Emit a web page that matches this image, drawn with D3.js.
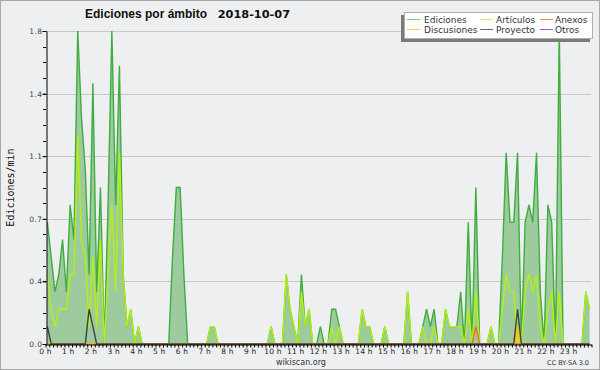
<!DOCTYPE html>
<html>
<head>
<meta charset="utf-8">
<script src="https://cdn.jsdelivr.net/npm/d3@7/dist/d3.min.js"></script>
<style>
  body { margin: 0; background: #fff; }
  svg text { font-family: "DejaVu Sans", sans-serif; }
</style>
</head>
<body>
<div id="chart"></div>
<script>
// one value per 10-minute bin (edits per minute), 0:00 .. 23:50
const ediciones = [
  0.7, 0.5, 0.3, 0.4, 0.6, 0.3, 0.8, 0.6, 1.8, 1.3, 1.0, 0.4,
  1.5, 0.3, 0.9, 0, 0.8, 1.8, 0.8, 1.6, 0.4, 0.1, 0.2, 0,
  0.1, 0, 0, 0, 0, 0, 0, 0, 0, 0.5, 0.9, 0.9,
  0.4, 0, 0, 0, 0, 0, 0, 0.1, 0.1, 0, 0, 0,
  0, 0, 0, 0, 0, 0, 0, 0, 0, 0, 0, 0.1,
  0, 0, 0, 0.4, 0.2, 0.1, 0, 0.4, 0.1, 0.2, 0, 0,
  0.1, 0, 0, 0.2, 0.2, 0.1, 0, 0, 0, 0, 0, 0.2,
  0.1, 0.1, 0, 0, 0, 0.1, 0, 0, 0, 0, 0, 0.3,
  0, 0, 0, 0.1, 0.2, 0.1, 0.2, 0, 0, 0.2, 0.1, 0.1,
  0.1, 0.3, 0, 0.7, 0, 0.9, 0, 0, 0, 0.1, 0, 0,
  0.5, 1.1, 0.7, 0.7, 1.1, 0, 0.7, 0.8, 0.7, 1.1, 0.3, 0,
  0.8, 0.7, 0, 1.8, 0, 0, 0, 0, 0, 0, 0.3, 0.2
];
const articulos = [
  0.4, 0.2, 0.1, 0.2, 0.2, 0.2, 0.4, 0.4, 1.2, 0.6, 0.5, 0.1,
  0.5, 0.1, 0.6, 0, 0.4, 0.8, 0.3, 1.1, 0.4, 0.1, 0.2, 0,
  0.1, 0, 0, 0, 0, 0, 0, 0, 0, 0, 0, 0,
  0, 0, 0, 0, 0, 0, 0, 0.1, 0.1, 0, 0, 0,
  0, 0, 0, 0, 0, 0, 0, 0, 0, 0, 0, 0.1,
  0, 0, 0, 0.4, 0.2, 0.1, 0, 0.3, 0.1, 0.2, 0, 0,
  0, 0, 0, 0.1, 0, 0.1, 0, 0, 0, 0, 0, 0.2,
  0.1, 0.1, 0, 0, 0, 0.1, 0, 0, 0, 0, 0, 0.3,
  0, 0, 0, 0.1, 0, 0, 0.1, 0, 0, 0.2, 0.1, 0.1,
  0.1, 0.1, 0, 0.2, 0, 0.3, 0, 0, 0, 0.1, 0, 0,
  0.2, 0.4, 0.3, 0.3, 0, 0, 0.3, 0.4, 0.3, 0.4, 0.1, 0,
  0.2, 0.3, 0, 0.3, 0, 0, 0, 0, 0, 0, 0.3, 0.2
];
const anexos = [
  0, 0, 0, 0, 0, 0, 0, 0, 0, 0, 0, 0,
  0, 0, 0, 0, 0, 0, 0, 0, 0, 0, 0, 0,
  0, 0, 0, 0, 0, 0, 0, 0, 0, 0, 0, 0,
  0, 0, 0, 0, 0, 0, 0, 0, 0, 0, 0, 0,
  0, 0, 0, 0, 0, 0, 0, 0, 0, 0, 0, 0,
  0, 0, 0, 0, 0, 0, 0, 0, 0, 0, 0, 0,
  0, 0, 0, 0, 0, 0, 0, 0, 0, 0, 0, 0,
  0, 0, 0, 0, 0, 0, 0, 0, 0, 0, 0, 0,
  0, 0, 0, 0, 0, 0, 0, 0, 0, 0, 0, 0,
  0, 0, 0, 0, 0, 0.1, 0, 0, 0, 0, 0, 0,
  0, 0, 0, 0, 0, 0, 0, 0, 0, 0, 0, 0,
  0, 0, 0, 0, 0, 0, 0, 0, 0, 0, 0, 0
];
const discusiones = [
  0, 0, 0, 0, 0, 0, 0, 0, 0, 0, 0, 0,
  0, 0, 0, 0, 0, 0, 0, 0, 0, 0, 0, 0,
  0, 0, 0, 0, 0, 0, 0, 0, 0, 0, 0, 0,
  0, 0, 0, 0, 0, 0, 0, 0, 0, 0, 0, 0,
  0, 0, 0, 0, 0, 0, 0, 0, 0, 0, 0, 0,
  0, 0, 0, 0, 0, 0, 0, 0, 0, 0, 0, 0,
  0, 0, 0, 0, 0, 0, 0, 0, 0, 0, 0, 0,
  0, 0, 0, 0, 0, 0, 0, 0, 0, 0, 0, 0,
  0, 0, 0, 0, 0, 0, 0, 0, 0, 0, 0, 0,
  0, 0, 0, 0, 0, 0, 0, 0, 0, 0, 0, 0,
  0, 0, 0, 0, 0.1, 0, 0, 0, 0, 0, 0, 0,
  0, 0, 0, 0, 0, 0, 0, 0, 0, 0, 0, 0
];
const proyecto = [
  0.1, 0, 0, 0, 0, 0, 0, 0, 0, 0, 0, 0.2,
  0.1, 0, 0, 0, 0, 0, 0, 0, 0, 0, 0, 0,
  0, 0, 0, 0, 0, 0, 0, 0, 0, 0, 0, 0,
  0, 0, 0, 0, 0, 0, 0, 0, 0, 0, 0, 0,
  0, 0, 0, 0, 0, 0, 0, 0, 0, 0, 0, 0,
  0, 0, 0, 0, 0, 0, 0, 0, 0, 0, 0, 0,
  0, 0, 0, 0, 0, 0, 0, 0, 0, 0, 0, 0,
  0, 0, 0, 0, 0, 0, 0, 0, 0, 0, 0, 0,
  0, 0, 0, 0, 0, 0, 0, 0, 0, 0, 0, 0,
  0, 0, 0, 0, 0, 0, 0, 0, 0, 0, 0, 0,
  0, 0, 0, 0, 0.2, 0, 0, 0, 0, 0, 0, 0,
  0, 0, 0, 0, 0, 0, 0, 0, 0, 0, 0, 0
];
const otros = [];

const hourLabels = [
  "0 h", "1 h", "2 h", "3 h", "4 h", "5 h", "6 h", "7 h", "8 h", "9 h", "10 h", "11 h",
  "12 h", "13 h", "14 h", "15 h", "16 h", "17 h", "18 h", "19 h", "20 h", "21 h", "22 h", "23 h"
];
const yTickValues = [0, 0.36, 0.72, 1.08, 1.44, 1.8];

const width = 600;
const height = 370;
const bg = "#eeeff0";

const svg = d3
  .select("#chart")
  .append("svg")
  .attr("width", width)
  .attr("height", height);

// frame
svg.append("rect")
  .attr("x", 0.5).attr("y", 0.5)
  .attr("width", width - 1).attr("height", height - 1)
  .attr("fill", bg)
  .attr("stroke", "#a8a8a8");

// scales: minutes of the day -> px
const x = d3.scaleLinear().domain([0, 1440]).range([45.5, 591.5]);
const y = d3.scaleLinear().domain([0, 1.8]).range([344, 31]);
const binX = (i) => x(i * 10 + 5);

// gridlines
svg.append("g")
  .selectAll("line")
  .data(yTickValues.slice(1))
  .join("line")
  .attr("x1", 46).attr("x2", 591)
  .attr("y1", (d) => Math.round(y(d)) + 0.5)
  .attr("y2", (d) => Math.round(y(d)) + 0.5)
  .attr("stroke", "#c8c8c8");

const series = [
  { name: "Ediciones", values: ediciones, stroke: "#3fad3f", legend: "#7fcc7f" },
  { name: "Artículos", values: articulos, stroke: "#b6ef12", legend: "#cdee66" },
  { name: "Anexos", values: anexos, stroke: "#f26a2e", legend: "#ff8050" },
  { name: "Discusiones", values: discusiones, stroke: "#ffb820", legend: "#ffcc55" },
  { name: "Proyecto", values: proyecto, stroke: "#404040", legend: "#666666" },
  { name: "Otros", values: otros, stroke: "#9944ee", legend: "#9955ee" },
];

const area = d3.area()
  .x((d, i) => binX(i))
  .y0(y(0))
  .y1((d) => y(d));

const line = d3.line()
  .x((d, i) => binX(i))
  .y((d) => y(d));

// Ediciones filled area
svg.append("path")
  .attr("d", area(ediciones))
  .attr("fill", "#9ecb9e");

// Discusiones small fill
svg.append("path")
  .attr("d", area(discusiones))
  .attr("fill", "#f5c040")
  .attr("opacity", 0.8);

series.forEach((s) => {
  if (!s.values.length) return;
  svg.append("path")
    .attr("d", line(s.values))
    .attr("fill", "none")
    .attr("stroke", s.stroke)
    .attr("stroke-width", 1.4)
    .attr("stroke-linejoin", "miter");
});

// Y axis
const yAxis = svg.append("g")
  .attr("transform", "translate(46.5,0)")
  .call(d3.axisLeft(y).tickValues(yTickValues).tickFormat((d) => d.toFixed(1)).tickSize(4).tickSizeOuter(0));
yAxis.select(".domain").attr("stroke", "#000");
yAxis.selectAll(".tick line").attr("stroke", "#000");
yAxis.selectAll("text")
  .attr("font-size", 7.5)
  .attr("letter-spacing", 0.4)
  .attr("fill", "#444")
  .attr("x", -4)
  .style("font-family", "DejaVu Sans");

// minor y ticks
svg.append("g")
  .selectAll("line")
  .data(d3.range(0, 1.8001, 0.09))
  .join("line")
  .attr("x1", 43).attr("x2", 46)
  .attr("y1", (d) => Math.round(y(d)) + 0.5)
  .attr("y2", (d) => Math.round(y(d)) + 0.5)
  .attr("stroke", "#000");

// X axis: small ticks every 10 min
const xAxis = svg.append("g")
  .attr("transform", "translate(0,344.5)")
  .call(d3.axisBottom(x).tickValues(d3.range(0, 1441, 10)).tickFormat("").tickSize(3).tickSizeOuter(0));
xAxis.select(".domain").attr("stroke", "#000");
xAxis.selectAll(".tick line").attr("stroke", "#000");

svg.append("g")
  .selectAll("text")
  .data(hourLabels)
  .join("text")
  .attr("x", (d, i) => x(i * 60))
  .attr("y", 354)
  .attr("text-anchor", "middle")
  .attr("font-size", 7.5)
  .attr("letter-spacing", 0.2)
  .attr("fill", "#222")
  .text((d) => d);

// axis title
svg.append("text")
  .attr("transform", "translate(14,187.5) rotate(-90)")
  .attr("text-anchor", "middle")
  .attr("font-size", 10)
  .attr("fill", "#111")
  .style("font-family", "DejaVu Sans Mono")
  .text("Ediciones/min");

// title
svg.append("text")
  .attr("x", 85).attr("y", 18)
  .attr("font-size", 12)
  .attr("font-weight", "bold")
  .attr("fill", "#111")
  .style("font-family", "Liberation Sans")
  .text("Ediciones por ámbito");
svg.append("text")
  .attr("x", 290).attr("y", 18)
  .attr("text-anchor", "end")
  .attr("font-size", 11.3)
  .attr("font-weight", "bold")
  .attr("fill", "#111")
  .text("2018-10-07");

// footer
svg.append("text")
  .attr("x", 301).attr("y", 365)
  .attr("text-anchor", "middle")
  .attr("font-size", 8)
  .attr("fill", "#333")
  .text("wikiscan.org");
svg.append("text")
  .attr("x", 589).attr("y", 365)
  .attr("text-anchor", "end")
  .attr("font-size", 6.5)
  .attr("fill", "#333")
  .text("CC BY-SA 3.0");

// legend
const legend = svg.append("g");
legend.append("rect")
  .attr("x", 401).attr("y", 15)
  .attr("width", 189).attr("height", 27)
  .attr("fill", "#7a7a7a");
legend.append("rect")
  .attr("x", 404.5).attr("y", 12.5)
  .attr("width", 188).attr("height", 26)
  .attr("fill", "#fff")
  .attr("stroke", "#b0b0b0");

const colX = [407, 480, 540];
const textX = [424, 496, 555];
const rowY = [20, 30];

const items = legend.selectAll("g.item")
  .data(series)
  .join("g")
  .attr("class", "item");

items.append("line")
  .attr("x1", (d, i) => colX[i % 3])
  .attr("x2", (d, i) => colX[i % 3] + 13)
  .attr("y1", (d, i) => rowY[Math.floor(i / 3)] - 0.5)
  .attr("y2", (d, i) => rowY[Math.floor(i / 3)] - 0.5)
  .attr("stroke", (d) => d.legend)
  .attr("stroke-width", 1);

items.append("text")
  .attr("x", (d, i) => textX[i % 3])
  .attr("y", (d, i) => rowY[Math.floor(i / 3)] + 3)
  .attr("font-size", 9)
  .attr("fill", "#333")
  .text((d) => d.name);
</script>
</body>
</html>
